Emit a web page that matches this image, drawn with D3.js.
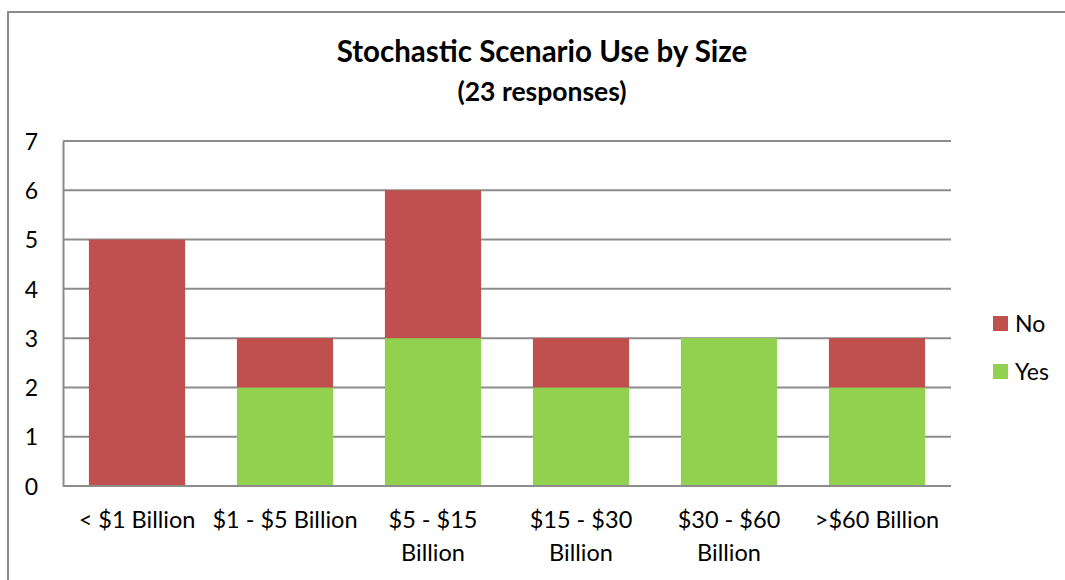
<!DOCTYPE html>
<html>
<head>
    <meta charset="UTF-8">
    <title>Stochastic Scenario Use by Size</title>
    <script src="https://d3js.org/d3.v7.min.js"></script>
    <style>
        body {
            margin: 0;
            padding: 0;
            background: #fff;
        }
        svg text {
            font-family: Lato, "Open Sans", sans-serif;
            fill: #000;
        }
    </style>
</head>
<body>
    <div id="chart"></div>
    <script>
        // data
        var categories = [["< $1 Billion"], ["$1 - $5 Billion"], ["$5 - $15", "Billion"],
                          ["$15 - $30", "Billion"], ["$30 - $60", "Billion"], [">$60 Billion"]];
        var yesValues = [0, 2, 3, 2, 3, 2];
        var noValues = [5, 1, 3, 1, 0, 1];
        var seriesNames = ["No", "Yes"];
        var yTicks = [0, 1, 2, 3, 4, 5, 6, 7];

        var colors = {Yes: "#92D050", No: "#C0504D"};
        var gridColor = "#8c8c8c";

        var W = 1065, H = 580;
        var plot = {left: 63, right: 951, top: 141, bottom: 486};

        var svg = d3.select("#chart").append("svg")
            .attr("width", W)
            .attr("height", H);

        // chart frame (cut off at the right and bottom like the original)
        svg.append("rect")
            .attr("x", 8).attr("y", 12)
            .attr("width", W + 10).attr("height", H + 10)
            .attr("fill", "none")
            .attr("stroke", gridColor)
            .attr("stroke-width", 2);

        var x = d3.scaleBand()
            .domain(d3.range(categories.length))
            .range([plot.left, plot.right])
            .paddingInner(0.35)
            .paddingOuter(0.175);

        var y = d3.scaleLinear()
            .domain([0, 7])
            .range([plot.bottom, plot.top]);

        // gridlines
        svg.append("g").selectAll("line")
            .data(yTicks)
            .enter().append("line")
            .attr("x1", plot.left).attr("x2", plot.right)
            .attr("y1", function(d) { return y(d); })
            .attr("y2", function(d) { return y(d); })
            .attr("stroke", gridColor)
            .attr("stroke-width", 2);

        // stacked bars
        var rows = categories.map(function(c, i) {
            return {i: i, Yes: yesValues[i], No: noValues[i]};
        });
        var stack = d3.stack().keys(["Yes", "No"])(rows);

        svg.append("g").selectAll("g")
            .data(stack)
            .enter().append("g")
            .attr("fill", function(s) { return colors[s.key]; })
            .selectAll("rect")
            .data(function(s) { return s; })
            .enter().append("rect")
            .attr("x", function(d) { return x(d.data.i); })
            .attr("width", x.bandwidth())
            .attr("y", function(d) { return y(d[1]); })
            .attr("height", function(d) { return y(d[0]) - y(d[1]); });

        // y axis
        var yAxis = svg.append("g")
            .attr("transform", "translate(" + plot.left + ",0)")
            .call(d3.axisLeft(y).tickValues(yTicks).tickFormat(d3.format("d")).tickSize(0).tickPadding(25));
        yAxis.select(".domain").attr("stroke", gridColor).attr("stroke-width", 2);
        yAxis.selectAll(".tick text").style("font-size", "23px").attr("dy", "0.36em");

        // x axis line
        svg.append("line")
            .attr("x1", plot.left).attr("x2", plot.right)
            .attr("y1", plot.bottom).attr("y2", plot.bottom)
            .attr("stroke", gridColor)
            .attr("stroke-width", 2);

        // category labels
        svg.append("g").selectAll("text")
            .data(categories)
            .enter().append("text")
            .attr("x", function(d, i) { return x(i) + x.bandwidth() / 2; })
            .attr("y", 528)
            .attr("text-anchor", "middle")
            .style("font-size", "23.5px")
            .each(function(lines) {
                var t = d3.select(this);
                lines.forEach(function(l, k) {
                    t.append("tspan")
                        .attr("x", t.attr("x"))
                        .attr("dy", k === 0 ? 0 : 33)
                        .text(l);
                });
            });

        // title
        svg.append("text")
            .attr("x", 542).attr("y", 62)
            .attr("text-anchor", "middle")
            .style("font-size", "29.5px")
            .style("font-weight", "bold")
            .text("Stochastic Scenario Use by Size");
        svg.append("text")
            .attr("x", 542).attr("y", 101)
            .attr("text-anchor", "middle")
            .style("font-size", "26.5px")
            .style("font-weight", "bold")
            .text("(23 responses)");

        // legend
        var legend = svg.append("g").selectAll("g")
            .data(seriesNames)
            .enter().append("g")
            .attr("transform", function(d, i) { return "translate(993," + (316 + i * 48) + ")"; });
        legend.append("rect")
            .attr("width", 15).attr("height", 15)
            .attr("fill", function(d) { return colors[d]; });
        legend.append("text")
            .attr("x", 22).attr("y", 16)
            .style("font-size", "23px")
            .text(function(d) { return d; });
    </script>
</body>
</html>
